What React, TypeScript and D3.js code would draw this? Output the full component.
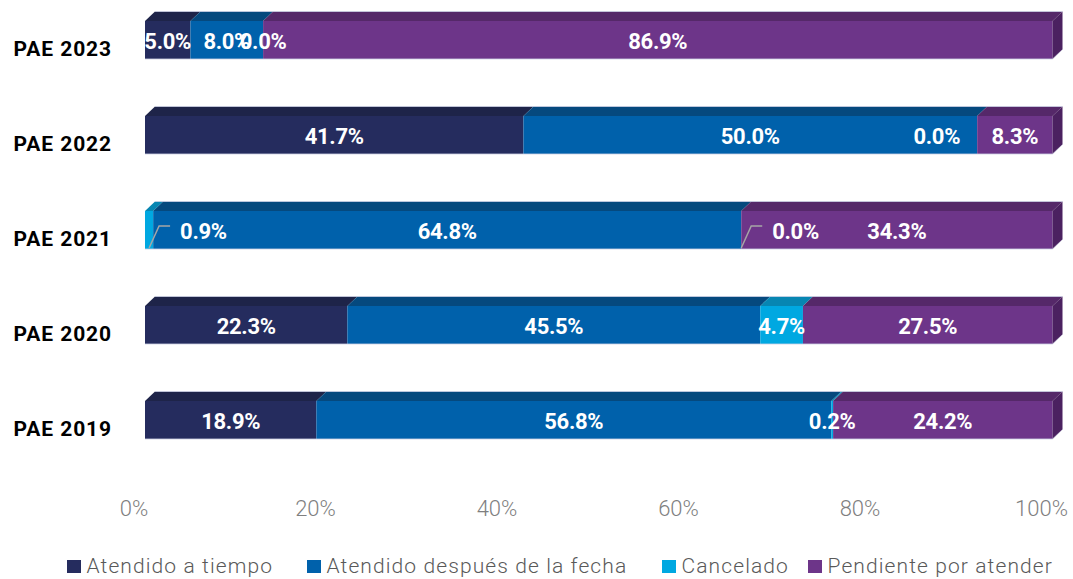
import React from "react";
import * as d3 from "d3";

const categories = ["PAE 2023", "PAE 2022", "PAE 2021", "PAE 2020", "PAE 2019"];
const seriesNames = [
  "Atendido a tiempo",
  "Atendido después de la fecha",
  "Cancelado",
  "Pendiente por atender",
];
const atendidoATiempo = [5.0, 41.7, 0.9, 22.3, 18.9];
const atendidoDespues = [8.0, 50.0, 64.8, 45.5, 56.8];
const cancelado = [0.0, 0.0, 0.0, 4.7, 0.2];
const pendiente = [86.9, 8.3, 34.3, 27.5, 24.2];
const xTicks = [0, 20, 40, 60, 80, 100];

const frontColors = ["#252c5e", "#0061ab", "#00a8e1", "#6d3589"];
const topColors = ["#1e2449", "#05497e", "#0786b2", "#552869"];
const sideColor = "#4b2160";
const edgeColor = "#cdd1e4";

// point-level colour override (series-category) -> palette index
const pointColor: Record<string, number> = { "0-2": 2 };
// manual label placements (series-category)
const labelPlacement: Record<string, { mode: string; dx: number }> = {
  "0-2": { mode: "leader", dx: 31 },
  "2-2": { mode: "leader", dx: 31 },
  "2-1": { mode: "endBefore", dx: -17 },
};

const W = 1073;
const H = 579;
const DX = 10;
const DY = 9.5;

export default function App() {
  const table = categories.map((c, i) => ({
    cat: c,
    s0: atendidoATiempo[i],
    s1: atendidoDespues[i],
    s2: cancelado[i],
    s3: pendiente[i],
  }));
  const keys = ["s0", "s1", "s2", "s3"];
  const stacked = d3.stack<any>().keys(keys).offset(d3.stackOffsetExpand)(table);
  const raw = [atendidoATiempo, atendidoDespues, cancelado, pendiente];

  const x = d3.scaleLinear().domain([0, 1]).range([145, 1052.5]);
  const y = d3
    .scaleBand<string>()
    .domain(categories)
    .range([-7.5, 467.5])
    .paddingInner(0.6)
    .paddingOuter(0.3);
  const bw = y.bandwidth();

  const labelFont = "Roboto, 'Noto Sans', sans-serif";

  const bars: React.ReactNode[] = [];
  const labels: React.ReactNode[] = [];

  categories.forEach((cat, ci) => {
    const top = y(cat)!;
    const bottom = top + bw;
    const segs = stacked.map((s, si) => {
      const [a, b] = s[ci];
      const pi = pointColor[`${si}-${ci}`] ?? si;
      return { si, x0: x(a), x1: x(b), pi };
    });
    const g: React.ReactNode[] = [];
    segs.forEach((sg) => {
      if (sg.x1 - sg.x0 <= 0.01) return;
      g.push(
        <rect
          key={`f${sg.si}`}
          x={sg.x0}
          y={top}
          width={sg.x1 - sg.x0}
          height={bw}
          fill={frontColors[sg.pi]}
        />
      );
      g.push(
        <path
          key={`t${sg.si}`}
          d={`M${sg.x0},${top}L${sg.x0 + DX},${top - DY}L${sg.x1 + DX},${top - DY}L${sg.x1},${top}Z`}
          fill={topColors[sg.pi]}
        />
      );
    });
    const xEnd = x(1);
    const xStart = x(0);
    g.push(
      <path
        key="side"
        d={`M${xEnd},${top}L${xEnd + DX},${top - DY}L${xEnd + DX},${bottom - DY}L${xEnd},${bottom}Z`}
        fill={sideColor}
      />
    );
    g.push(
      <line key="e1" x1={xStart + DX} x2={xEnd + DX} y1={top - DY} y2={top - DY} stroke={edgeColor} strokeWidth={0.8} />
    );
    g.push(
      <line key="e2" x1={xStart} x2={xEnd} y1={bottom} y2={bottom} stroke={edgeColor} strokeWidth={0.8} />
    );
    g.push(
      <line key="e3" x1={xEnd} x2={xEnd + DX} y1={bottom} y2={bottom - DY} stroke={edgeColor} strokeWidth={0.6} />
    );
    bars.push(<g key={cat}>{g}</g>);

    const cy = top + bw / 2;
    segs.forEach((sg) => {
      const v = raw[sg.si][ci];
      const txt = `${v.toFixed(1)}%`;
      const place = labelPlacement[`${sg.si}-${ci}`];
      const baseY = cy + 9;
      const common = {
        fill: "#fff",
        fontFamily: labelFont,
        fontWeight: 700,
        fontSize: 22,
        letterSpacing: -0.3,
      };
      if (place && place.mode === "leader") {
        const ax = (sg.x0 + sg.x1) / 2;
        labels.push(
          <g key={`l${ci}-${sg.si}`}>
            <path
              d={`M${ax},${bottom - 1}L${ax + 10},${cy - 4}L${ax + 21},${cy - 4}`}
              fill="none"
              stroke="#a6a6a6"
              strokeWidth={1.5}
            />
            <text x={ax + place.dx} y={baseY} {...common}>
              {txt}
            </text>
          </g>
        );
      } else if (place && place.mode === "endBefore") {
        labels.push(
          <text key={`l${ci}-${sg.si}`} x={sg.x0 + place.dx} y={baseY} textAnchor="end" {...common}>
            {txt}
          </text>
        );
      } else {
        labels.push(
          <text key={`l${ci}-${sg.si}`} x={(sg.x0 + sg.x1) / 2} y={baseY} textAnchor="middle" {...common}>
            {txt}
          </text>
        );
      }
    });
  });

  const legendX = [67, 307, 662, 808];

  return (
    <svg
      width={W}
      height={H}
      style={{ position: "fixed", left: 0, top: 0, display: "block", background: "#fff" }}
    >
      {bars}
      {labels}
      {categories.map((cat) => (
        <text
          key={cat}
          x={112}
          y={y(cat)! + bw / 2 + 16}
          textAnchor="end"
          fontFamily={labelFont}
          fontWeight={700}
          fontSize={21}
          letterSpacing={0.9}
          fill="#000"
        >
          {cat}
        </text>
      ))}
      {xTicks.map((t) => (
        <text
          key={t}
          x={x(t / 100) - 11}
          y={516}
          textAnchor="middle"
          fontFamily={labelFont}
          fontWeight={300}
          fontSize={22}
          fill="#7f7f7f"
        >
          {`${t}%`}
        </text>
      ))}
      {seriesNames.map((n, i) => (
        <g key={n}>
          <rect x={legendX[i]} y={560} width={14} height={13} fill={frontColors[i]} />
          <text
            x={legendX[i] + 19.5}
            y={573}
            fontFamily={labelFont}
            fontWeight={300}
            fontSize={21}
            letterSpacing={1.1}
            fill="#595959"
          >
            {n}
          </text>
        </g>
      ))}
    </svg>
  );
}
